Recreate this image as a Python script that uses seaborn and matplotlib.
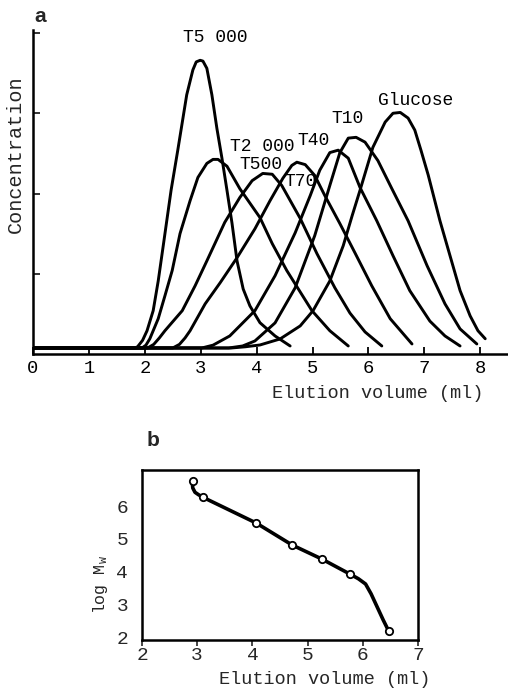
import numpy as np
import pandas as pd
import matplotlib
matplotlib.use("Agg")
import matplotlib.pyplot as plt
import seaborn as sns

sns.set_theme(style="white")
plt.rcParams['font.family'] = ['Liberation Mono', 'DejaVu Sans Mono']
plt.rcParams['mathtext.fontset'] = 'custom'
plt.rcParams['mathtext.rm'] = 'Liberation Mono'
plt.rcParams['mathtext.it'] = 'Liberation Mono'

# ---------------- Panel a data (elution profiles) ----------------
samples = ["T5 000", "T2 000", "T500", "T70", "T40", "T10", "Glucose"]

t5000_x = [0.0, 1.82, 1.87, 1.96, 2.04, 2.15, 2.24, 2.33, 2.47, 2.59, 2.75, 2.86, 2.92, 2.99, 3.04, 3.11, 3.20, 3.29, 3.38, 3.47, 3.56, 3.65, 3.76, 3.88, 4.06, 4.33, 4.60]
t5000_y = [0.075, 0.075, 0.09, 0.17, 0.29, 0.54, 0.91, 1.35, 2.04, 2.54, 3.23, 3.54, 3.64, 3.66, 3.65, 3.56, 3.23, 2.81, 2.44, 2.04, 1.63, 1.16, 0.81, 0.60, 0.39, 0.225, 0.10]

t2000_x = [0.0, 1.95, 2.02, 2.09, 2.24, 2.36, 2.49, 2.63, 2.81, 2.95, 3.11, 3.22, 3.31, 3.47, 3.70, 4.06, 4.28, 4.54, 4.99, 5.31, 5.64]
t2000_y = [0.075, 0.075, 0.11, 0.19, 0.44, 0.725, 1.04, 1.50, 1.91, 2.20, 2.375, 2.425, 2.425, 2.34, 2.06, 1.70, 1.375, 1.04, 0.54, 0.29, 0.10]

t500_x = [0.0, 2.05, 2.16, 2.26, 2.36, 2.67, 2.90, 3.11, 3.43, 3.70, 3.92, 4.11, 4.28, 4.45, 4.78, 5.08, 5.40, 5.67, 5.94, 6.24]
t500_y = [0.075, 0.075, 0.12, 0.20, 0.29, 0.54, 0.85, 1.16, 1.64, 1.95, 2.16, 2.25, 2.24, 2.10, 1.69, 1.25, 0.825, 0.51, 0.275, 0.10]

t70_x = [0.0, 2.50, 2.62, 2.72, 2.81, 3.08, 3.35, 3.65, 3.97, 4.24, 4.47, 4.63, 4.72, 4.87, 5.04, 5.22, 5.49, 5.76, 6.06, 6.39, 6.78]
t70_y = [0.075, 0.075, 0.12, 0.20, 0.29, 0.625, 0.89, 1.20, 1.56, 1.91, 2.19, 2.35, 2.39, 2.36, 2.225, 1.975, 1.625, 1.26, 0.85, 0.44, 0.125]

t40_x = [0.0, 3.02, 3.22, 3.52, 3.97, 4.33, 4.69, 4.96, 5.13, 5.31, 5.46, 5.64, 5.85, 6.15, 6.44, 6.74, 7.10, 7.37, 7.64]
t40_y = [0.075, 0.075, 0.11, 0.225, 0.54, 0.975, 1.51, 1.975, 2.29, 2.51, 2.54, 2.44, 2.075, 1.66, 1.225, 0.79, 0.41, 0.225, 0.10]

t10_x = [0.0, 3.50, 3.75, 3.97, 4.33, 4.69, 5.04, 5.31, 5.49, 5.64, 5.78, 5.94, 6.17, 6.42, 6.71, 7.05, 7.37, 7.64, 7.94]
t10_y = [0.075, 0.075, 0.10, 0.1625, 0.3875, 0.825, 1.475, 2.10, 2.51, 2.69, 2.70, 2.64, 2.41, 2.06, 1.66, 1.10, 0.625, 0.3125, 0.125]

glucose_x = [0.0, 3.55, 3.80, 4.06, 4.42, 4.78, 5.01, 5.31, 5.55, 5.71, 5.85, 6.08, 6.30, 6.44, 6.57, 6.71, 6.83, 6.94, 7.07, 7.28, 7.46, 7.64, 7.82, 7.96, 8.09]
glucose_y = [0.075, 0.075, 0.09, 0.1125, 0.1875, 0.35, 0.54, 0.91, 1.35, 1.725, 2.04, 2.575, 2.89, 3.00, 3.01, 2.94, 2.79, 2.54, 2.23, 1.66, 1.225, 0.79, 0.475, 0.29, 0.19]

curve_xs = [t5000_x, t2000_x, t500_x, t70_x, t40_x, t10_x, glucose_x]
curve_ys = [t5000_y, t2000_y, t500_y, t70_y, t40_y, t10_y, glucose_y]

# peak label positions (data coords)
label_x = [3.26, 4.10, 4.08, 4.79, 5.01, 5.63, 6.85]
label_y = [3.95, 2.59, 2.36, 2.15, 2.66, 2.93, 3.16]

xticks_a = [0, 1, 2, 3, 4, 5, 6, 7, 8]
yticks_a = [1, 2, 3, 4]

# ---------------- Panel b data (calibration) ----------------
b_point_x = [2.92, 3.10, 4.07, 4.72, 5.26, 5.77, 6.47]
b_point_y = [6.76, 6.27, 5.48, 4.81, 4.38, 3.92, 2.18]
b_curve_x = [2.91, 2.92, 2.96, 3.02, 3.10, 4.07, 4.72, 5.26, 5.77, 5.92, 6.05, 6.15, 6.26, 6.37, 6.47]
b_curve_y = [6.74, 6.55, 6.42, 6.35, 6.27, 5.48, 4.81, 4.38, 3.92, 3.78, 3.62, 3.32, 2.92, 2.52, 2.18]
xticks_b = [2, 3, 4, 5, 6, 7]
yticks_b = [2, 3, 4, 5, 6]

rows = []
for name, xs, ys in zip(samples, curve_xs, curve_ys):
    for i, (xv, yv) in enumerate(zip(xs, ys)):
        rows.append({"sample": name, "order": i, "x": xv, "y": yv})
df_a = pd.DataFrame(rows)

df_b_curve = pd.DataFrame({"x": b_curve_x, "y": b_curve_y})
df_b_pts = pd.DataFrame({"x": b_point_x, "y": b_point_y})

W, H = 508, 690
fig = plt.figure(figsize=(W / 100, H / 100), dpi=100)
fig.patch.set_facecolor("white")

# ---- panel a
ax = fig.add_axes([33 / W, 1 - 354 / H, (W - 33) / W, (354 - 30) / H])
sns.lineplot(data=df_a, x="x", y="y", units="sample", estimator=None, sort=False,
             color="black", linewidth=2.1, ax=ax,
             solid_joinstyle="round", solid_capstyle="round")
ax.set_xlim(0, (W - 33) / 55.9)
ax.set_ylim(0, (353 - 30) / 80)
ax.set_xticks(xticks_a)
ax.set_xticklabels([str(t) for t in xticks_a], fontsize=13.5)
ax.set_yticks(yticks_a)
ax.set_yticklabels([])
ax.tick_params(axis="x", direction="in", length=5, width=1.3, colors="black",
               bottom=True, pad=4)
ax.tick_params(axis="y", direction="in", length=5, width=1.3, left=True)
for s in ["top", "right"]:
    ax.spines[s].set_visible(False)
for s in ["left", "bottom"]:
    ax.spines[s].set_color("black")
    ax.spines[s].set_linewidth(1.8)
ax.set_xlabel("")
ax.set_ylabel("")
ax.patch.set_alpha(0)
for name, lx, ly in zip(samples, label_x, label_y):
    ax.text(lx, ly, name, ha="center", va="center", fontsize=13, color="black")

fig.text(15 / W, 1 - 154 / H, "Concentration", rotation=90, ha="center", va="center",
         fontsize=14.5)
fig.text(378 / W, 1 - 393 / H, "Elution volume (ml)", ha="center", va="center",
         fontsize=13.4)
fig.text(40 / W, 1 - 17 / H, "a", ha="center", va="center", fontsize=15,
         fontweight="bold", family="Liberation Sans")

# ---- panel b
bx = fig.add_axes([142 / W, 1 - 640 / H, (418 - 142) / W, (640 - 470) / H])
sns.lineplot(data=df_b_curve, x="x", y="y", sort=False, color="black",
             linewidth=2.6, ax=bx, solid_joinstyle="round", solid_capstyle="round")
sns.scatterplot(data=df_b_pts, x="x", y="y", marker="o", s=28, facecolor="white",
                edgecolor="black", linewidth=1.3, zorder=5, ax=bx)
bx.set_xlim(2, 7)
bx.set_ylim(1.91, 7.10)
bx.set_xticks(xticks_b)
bx.set_xticklabels([str(t) for t in xticks_b], fontsize=14)
bx.set_yticks(yticks_b)
bx.set_yticklabels([str(t) for t in yticks_b], fontsize=14)
bx.tick_params(axis="x", direction="out", length=4, width=1.2, bottom=True, pad=1)
bx.tick_params(axis="y", length=0, pad=10)
for s in bx.spines.values():
    s.set_color("black")
    s.set_linewidth(1.8)
bx.set_xlabel("")
bx.set_ylabel("")
bx.patch.set_alpha(0)

fig.text(325 / W, 1 - 680 / H, "Elution volume (ml)", ha="center", va="center",
         fontsize=13.4)
fig.text(100 / W, 1 - 585 / H, r"log M$_\mathrm{w}$", rotation=90, ha="center",
         va="center", fontsize=12)
fig.text(153 / W, 1 - 441 / H, "b", ha="center", va="center", fontsize=15,
         fontweight="bold", family="Liberation Sans")

fig.savefig("out.png", dpi=100, facecolor="white")
